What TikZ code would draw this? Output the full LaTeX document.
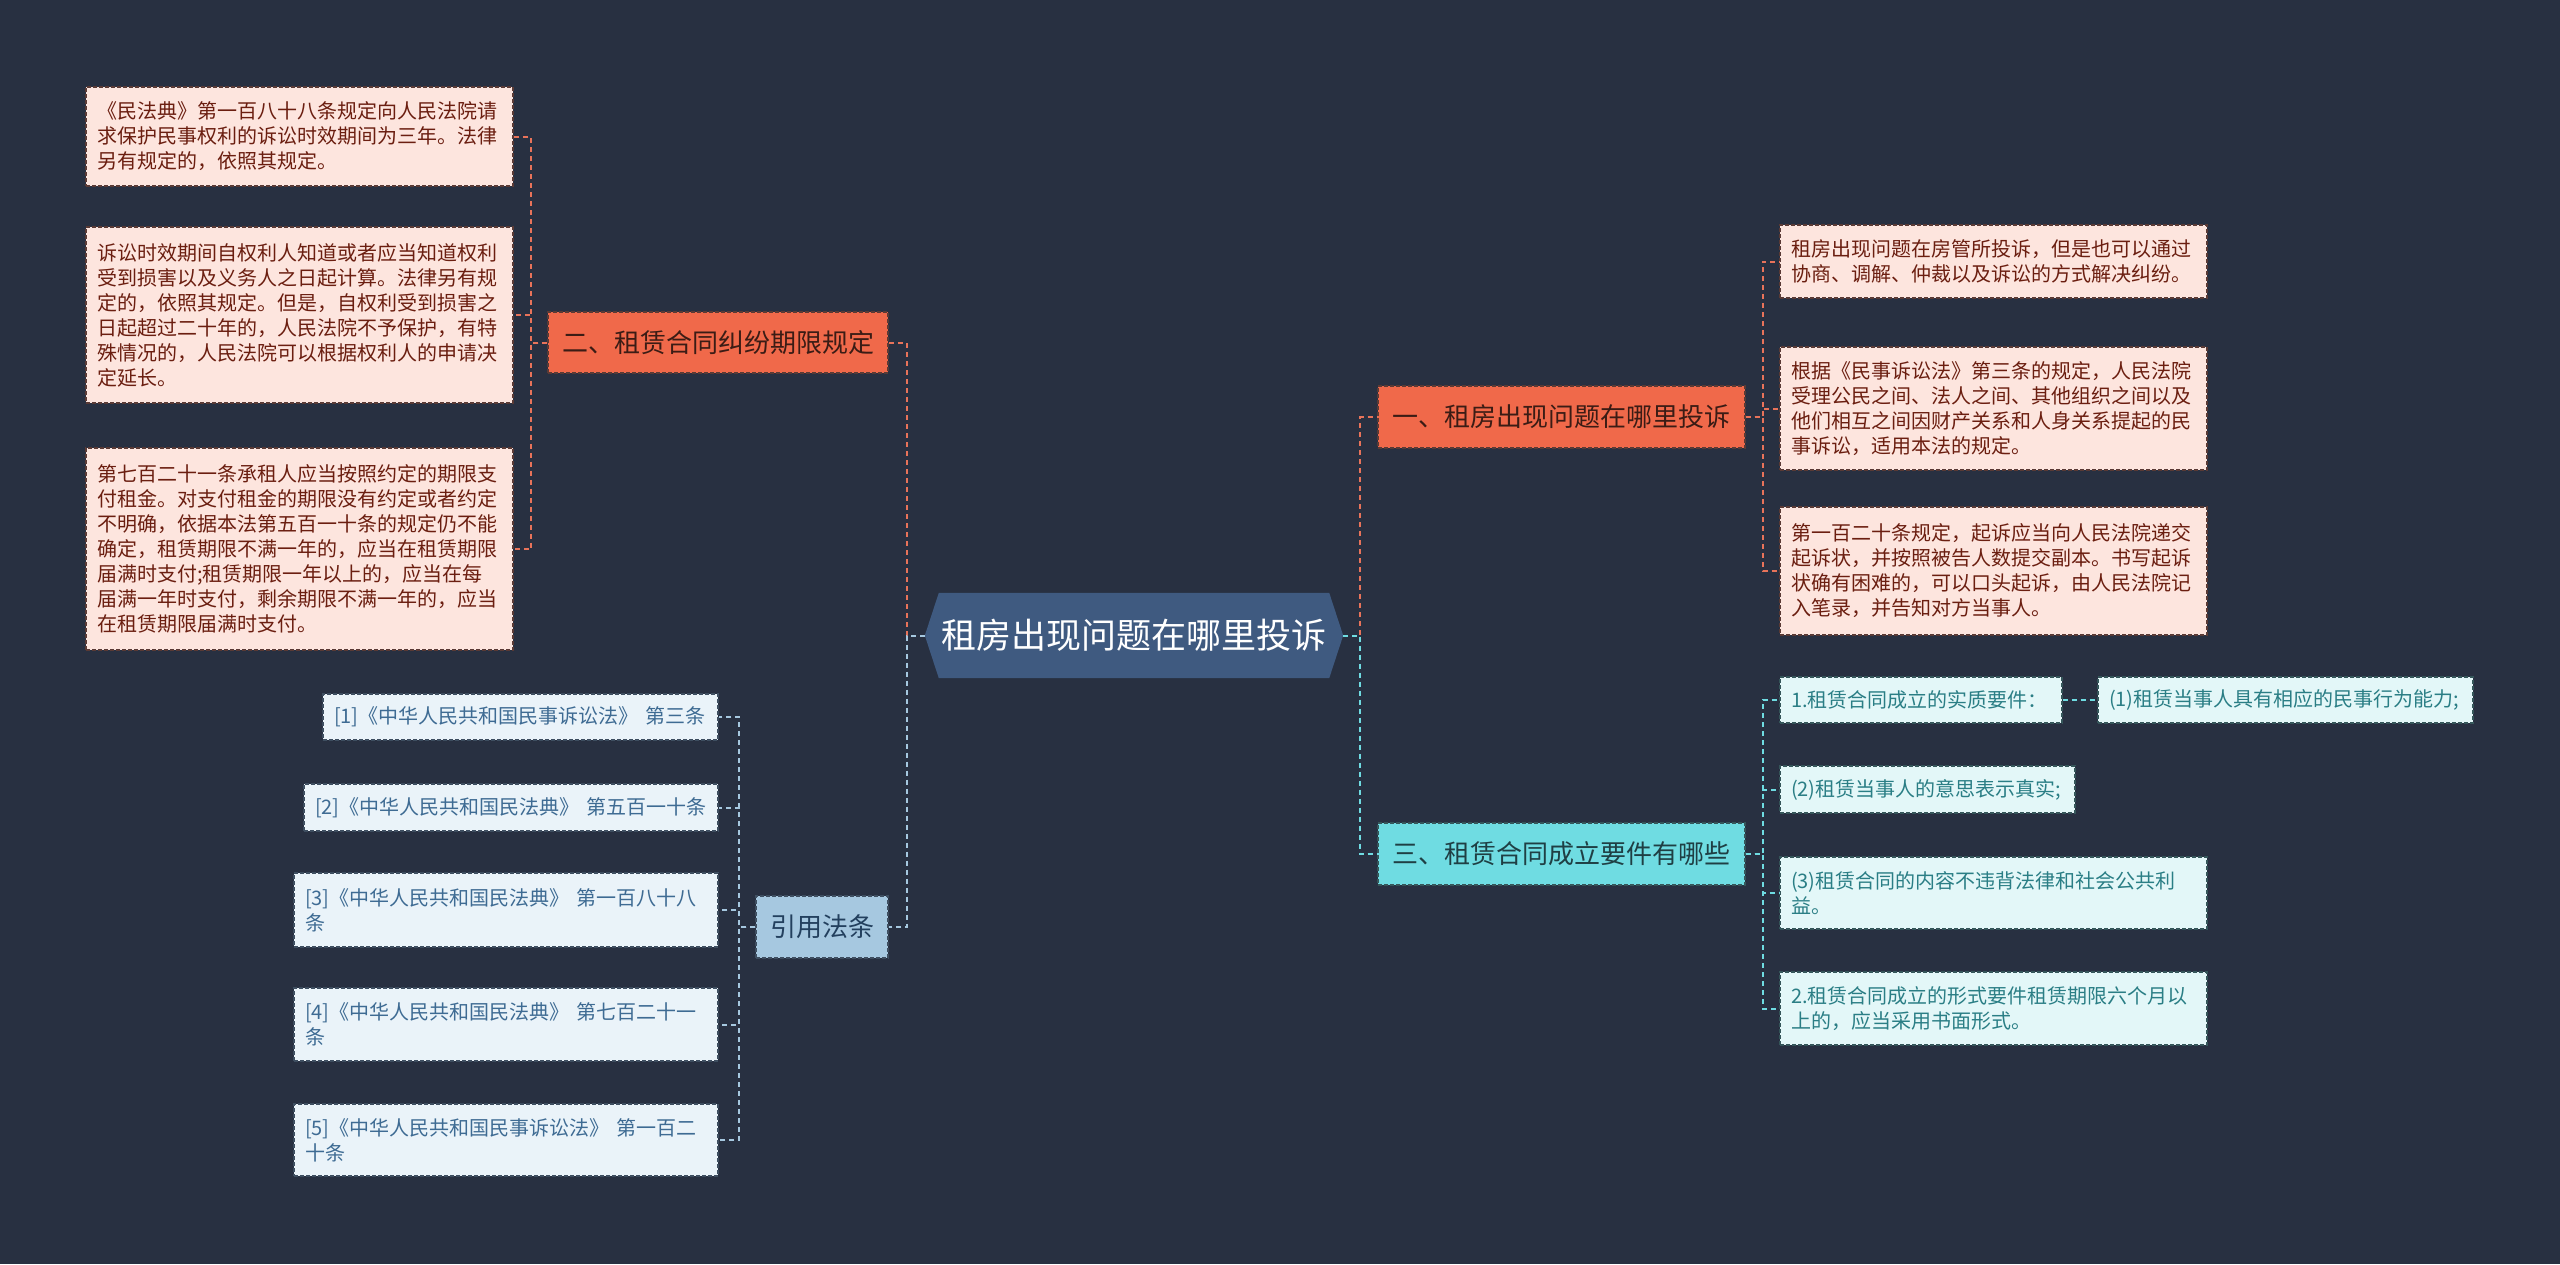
\documentclass[tikz,border=0pt]{standalone}
\usepackage{fontspec}
\setmainfont{Noto Sans CJK SC}
\usetikzlibrary{calc}
\definecolor{bgc}{HTML}{283041}
\definecolor{hexc}{HTML}{3F5A80}
\definecolor{orf}{HTML}{F0694A}
\definecolor{ort}{HTML}{3B1C15}
\definecolor{orl}{HTML}{E8735A}
\definecolor{pkf}{HTML}{FDE5DE}
\definecolor{pkt}{HTML}{6B1E10}
\definecolor{pkd}{HTML}{5A3A35}
\definecolor{cyf}{HTML}{6FDCE2}
\definecolor{cyt}{HTML}{1F3F44}
\definecolor{cylf}{HTML}{E3F7F8}
\definecolor{cylt}{HTML}{2A7E85}
\definecolor{cyd}{HTML}{35565A}
\definecolor{blf}{HTML}{A6C8E0}
\definecolor{blt}{HTML}{23405E}
\definecolor{bllf}{HTML}{EAF3F9}
\definecolor{bllt}{HTML}{3E6B93}
\definecolor{bld}{HTML}{3E4E60}
\pgfdeclarelayer{back}
\pgfdeclarelayer{bg}
\pgfsetlayers{back,bg,main}
\begin{document}
\begin{tikzpicture}[x=1pt,y=-1pt,
  con/.style={dashed, dash pattern=on 5pt off 4pt, line width=2pt},
  conor/.style={con, draw=orl},
  concy/.style={con, draw=cyf},
  conbl/.style={con, draw=blf},
  box/.style={rectangle, inner xsep=11pt, inner ysep=0pt, dashed, dash pattern=on 4pt off 2pt, line width=1.2pt, font=\fontsize{20pt}{25pt}\selectfont, align=left},
  pinkleaf/.style={box, fill=pkf, draw=pkd, text=pkt},
  cyanleaf/.style={box, fill=cylf, draw=cyd, text=cylt},
  blueleaf/.style={box, fill=bllf, draw=bld, text=bllt},
  topic/.style={rectangle, inner sep=0pt, dashed, dash pattern=on 4pt off 2pt, line width=1.2pt, font=\fontsize{26pt}{30pt}\selectfont, align=center},
  ortopic/.style={topic, fill=orf, draw=pkd, text=ort},
  cytopic/.style={topic, fill=cyf, draw=cyd, text=cyt},
  bltopic/.style={topic, fill=blf, draw=bld, text=blt},
  rootnode/.style={rectangle, inner sep=0pt, minimum width=418pt, minimum height=85pt, text=white, font=\fontsize{35pt}{40pt}\selectfont}
]
\begin{pgfonlayer}{back}
\fill[bgc] (0,0) rectangle (2560,1264);
\end{pgfonlayer}
\useasboundingbox (0,0) rectangle (2560,1264);

% root
\node[rootnode] (root) at (1134,635.5) {租房出现问题在哪里投诉};
\begin{pgfonlayer}{bg}
\fill[hexc] (root.west) -- ($(root.north west)+(14,0)$) -- ($(root.north east)+(-14,0)$) -- (root.east) -- ($(root.south east)+(-14,0)$) -- ($(root.south west)+(14,0)$) -- cycle;
\end{pgfonlayer}

% topics
\node[ortopic, minimum width=340pt, minimum height=61pt] (t2) at (718,342.5) {二、租赁合同纠纷期限规定};
\node[bltopic, minimum width=132pt, minimum height=62pt] (tr) at (822,927) {引用法条};
\node[ortopic, minimum width=367pt, minimum height=62pt] (t1) at (1561.5,417) {一、租房出现问题在哪里投诉};
\node[cytopic, minimum width=367pt, minimum height=62pt] (t3) at (1561.5,854) {三、租赁合同成立要件有哪些};

% left leaves (二)
\node[pinkleaf, text width=405pt, minimum height=99pt] (l1) at (299.5,136.5) {《民法典》第一百八十八条规定向人民法院请\\求保护民事权利的诉讼时效期间为三年。法律\\另有规定的，依照其规定。};
\node[pinkleaf, text width=405pt, minimum height=176pt] (l2) at (299.5,315) {诉讼时效期间自权利人知道或者应当知道权利\\受到损害以及义务人之日起计算。法律另有规\\定的，依照其规定。但是，自权利受到损害之\\日起超过二十年的，人民法院不予保护，有特\\殊情况的，人民法院可以根据权利人的申请决\\定延长。};
\node[pinkleaf, text width=405pt, minimum height=202pt] (l3) at (299.5,549) {第七百二十一条承租人应当按照约定的期限支\\付租金。对支付租金的期限没有约定或者约定\\不明确，依据本法第五百一十条的规定仍不能\\确定，租赁期限不满一年的，应当在租赁期限\\届满时支付;租赁期限一年以上的，应当在每\\届满一年时支付，剩余期限不满一年的，应当\\在租赁期限届满时支付。};

% references
\node[blueleaf, text width=373pt, minimum height=46pt] (r1) at (520.5,717) {[1]《中华人民共和国民事诉讼法》~第三条};
\node[blueleaf, text width=392pt, minimum height=47pt] (r2) at (511,807.5) {[2]《中华人民共和国民法典》~第五百一十条};
\node[blueleaf, text width=402pt, minimum height=74pt] (r3) at (506,910) {[3]《中华人民共和国民法典》~第一百八十八\\条};
\node[blueleaf, text width=402pt, minimum height=73pt] (r4) at (506,1024.5) {[4]《中华人民共和国民法典》~第七百二十一\\条};
\node[blueleaf, text width=402pt, minimum height=72pt] (r5) at (506,1140) {[5]《中华人民共和国民事诉讼法》~第一百二\\十条};

% right leaves (一)
\node[pinkleaf, text width=405pt, minimum height=73pt] (p1) at (1993.5,261.5) {租房出现问题在房管所投诉，但是也可以通过\\协商、调解、仲裁以及诉讼的方式解决纠纷。};
\node[pinkleaf, text width=405pt, minimum height=123pt] (p2) at (1993.5,408.5) {根据《民事诉讼法》第三条的规定，人民法院\\受理公民之间、法人之间、其他组织之间以及\\他们相互之间因财产关系和人身关系提起的民\\事诉讼，适用本法的规定。};
\node[pinkleaf, text width=405pt, minimum height=128pt] (p3) at (1993.5,571) {第一百二十条规定，起诉应当向人民法院递交\\起诉状，并按照被告人数提交副本。书写起诉\\状确有困难的，可以口头起诉，由人民法院记\\入笔录，并告知对方当事人。};

% right leaves (三)
\node[cyanleaf, text width=260pt, minimum height=46pt] (c1) at (1921,700) {1.租赁合同成立的实质要件：};
\node[cyanleaf, text width=353pt, minimum height=46pt] (c1a) at (2285.5,700) {(1)租赁当事人具有相应的民事行为能力;};
\node[cyanleaf, text width=273pt, minimum height=47pt] (c2) at (1927.5,789.5) {(2)租赁当事人的意思表示真实;};
\node[cyanleaf, text width=405pt, minimum height=72pt] (c3) at (1993.5,893) {(3)租赁合同的内容不违背法律和社会公共利\\益。};
\node[cyanleaf, text width=405pt, minimum height=73pt] (c4) at (1993.5,1008.5) {2.租赁合同成立的形式要件租赁期限六个月以\\上的，应当采用书面形式。};

% connectors from root
\draw[conor] (root.west) -- ++(-18,0) |- (t2.east);
\draw[conbl] (root.west) -- ++(-18,0) |- (tr.east);
\draw[conor] (root.east) -- ++(17,0) |- (t1.west);
\draw[concy] (root.east) -- ++(17,0) |- (t3.west);

% 二 children
\draw[conor] (t2.west) -- ++(-16,0) |- (l1.east);
\draw[conor] (t2.west) -- ++(-16,0) |- (l2.east);
\draw[conor] (t2.west) -- ++(-16,0) |- (l3.east);

% references
\draw[conbl] (tr.west) -- ++(-16,0) |- (r1.east);
\draw[conbl] (tr.west) -- ++(-16,0) |- (r2.east);
\draw[conbl] (tr.west) -- ++(-16,0) |- (r3.east);
\draw[conbl] (tr.west) -- ++(-16,0) |- (r4.east);
\draw[conbl] (tr.west) -- ++(-16,0) |- (r5.east);

% 一 children
\draw[conor] (t1.east) -- ++(17,0) |- (p1.west);
\draw[conor] (t1.east) -- ++(17,0) |- (p2.west);
\draw[conor] (t1.east) -- ++(17,0) |- (p3.west);

% 三 children
\draw[concy] (t3.east) -- ++(17,0) |- (c1.west);
\draw[concy] (t3.east) -- ++(17,0) |- (c2.west);
\draw[concy] (t3.east) -- ++(17,0) |- (c3.west);
\draw[concy] (t3.east) -- ++(17,0) |- (c4.west);
\draw[concy] (c1.east) -- (c1a.west);
\end{tikzpicture}
\end{document}
